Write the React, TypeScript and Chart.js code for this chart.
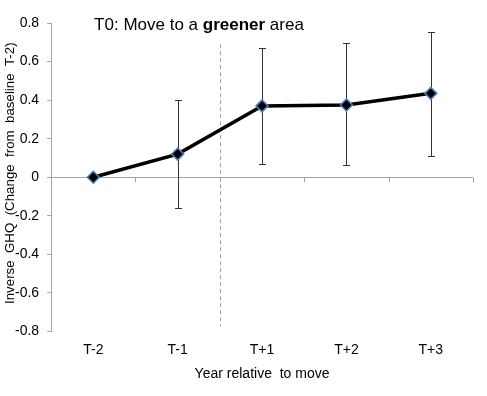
import React, { useEffect, useRef } from "react";
import { Chart, registerables } from "chart.js";

Chart.register(...registerables);

const categories = ["T-2", "T-1", "T+1", "T+2", "T+3"];
const meanValues = [0, 0.12, 0.37, 0.375, 0.435];
const upperCI: (number | null)[] = [null, 0.4, 0.67, 0.695, 0.755];
const lowerCI: (number | null)[] = [null, -0.16, 0.07, 0.065, 0.11];
const yTickMin = -0.8;
const yTickMax = 0.8;
const yTickStep = 0.2;
const moveMarkerIndex = 1.5;
const moveMarkerTop = 0.69;
const moveMarkerBottom = -0.775;

const FONT = "'Liberation Sans', Arial, sans-serif";
const AXIS_GREY = "#a6a6a6";

const decorPlugin = {
  id: "decor",
  beforeDatasetsDraw(chart: any) {
    const { ctx, chartArea, scales } = chart;
    const xs = scales.x;
    const ys = scales.y;
    ctx.save();
    const y0 = Math.round(ys.getPixelForValue(0)) + 0.5;
    ctx.strokeStyle = AXIS_GREY;
    ctx.lineWidth = 1;
    ctx.beginPath();
    ctx.moveTo(chartArea.left, y0);
    ctx.lineTo(chartArea.right, y0);
    for (let i = 0; i <= categories.length; i++) {
      const px = Math.round(xs.getPixelForValue(i - 0.5)) + 0.5;
      ctx.moveTo(px, y0);
      ctx.lineTo(px, y0 + 5);
    }
    ctx.stroke();
    const mx = Math.round(xs.getPixelForValue(moveMarkerIndex)) + 0.5;
    ctx.setLineDash([4, 3]);
    ctx.strokeStyle = "#a0a0a0";
    ctx.beginPath();
    ctx.moveTo(mx, ys.getPixelForValue(moveMarkerTop));
    ctx.lineTo(mx, ys.getPixelForValue(moveMarkerBottom));
    ctx.stroke();
    ctx.setLineDash([]);
    ctx.strokeStyle = "#333333";
    ctx.lineWidth = 1;
    for (let i = 0; i < categories.length; i++) {
      const hi = upperCI[i];
      const lo = lowerCI[i];
      if (hi === null || lo === null) continue;
      const px = Math.round(xs.getPixelForValue(i)) + 0.5;
      const yh = Math.round(ys.getPixelForValue(hi)) + 0.5;
      const yl = Math.round(ys.getPixelForValue(lo)) + 0.5;
      ctx.beginPath();
      ctx.moveTo(px, yh);
      ctx.lineTo(px, yl);
      ctx.moveTo(px - 3.5, yh);
      ctx.lineTo(px + 3.5, yh);
      ctx.moveTo(px - 3.5, yl);
      ctx.lineTo(px + 3.5, yl);
      ctx.stroke();
    }
    ctx.restore();
  },
  afterDraw(chart: any) {
    const { ctx, chartArea } = chart;
    ctx.save();
    ctx.fillStyle = "#000";
    let tx = chartArea.left + 43;
    const ty = chartArea.top + 7;
    ctx.textBaseline = "alphabetic";
    ctx.textAlign = "left";
    const parts: [string, string][] = [
      ["T0: Move to a ", "normal"],
      ["greener", "bold"],
      [" area", "normal"],
    ];
    for (const [t, w] of parts) {
      ctx.font = `${w} 17px ${FONT}`;
      ctx.fillText(t, tx, ty);
      tx += ctx.measureText(t).width;
    }
    ctx.font = `13.3px ${FONT}`;
    ctx.translate(10.5, (chartArea.top + chartArea.bottom) / 2 - 4);
    ctx.rotate(-Math.PI / 2);
    ctx.textAlign = "center";
    ctx.textBaseline = "middle";
    ctx.fillText("Inverse  GHQ  (Change  from  baseline  T-2)", 0, 0);
    ctx.restore();
  },
};

export default function App() {
  const canvasRef = useRef<HTMLCanvasElement | null>(null);
  useEffect(() => {
    const canvas = canvasRef.current;
    if (!canvas) return;
    const chart = new Chart(canvas, {
      type: "line",
      data: {
        labels: categories,
        datasets: [
          {
            data: meanValues,
            borderColor: "#000",
            borderWidth: 3.5,
            backgroundColor: "#000",
            pointStyle: "rectRot",
            pointRadius: 6,
            pointBackgroundColor: "#000",
            pointBorderColor: "#4f81bd",
            pointBorderWidth: 1.5,
            tension: 0,
          },
        ],
      },
      options: {
        animation: false,
        responsive: true,
        maintainAspectRatio: false,
        layout: { padding: { left: 7, right: 14, top: 23, bottom: 13 } },
        plugins: {
          legend: { display: false },
          tooltip: { enabled: false },
          title: { display: false },
        },
        scales: {
          x: {
            type: "category",
            offset: true,
            grid: { display: false },
            border: { display: false },
            ticks: { color: "#000", font: { family: FONT, size: 14 }, padding: 2 },
            title: {
              display: true,
              text: "Year relative  to move",
              color: "#000",
              font: { family: FONT, size: 14 },
              padding: { top: 6, bottom: 0 },
            },
          },
          y: {
            min: yTickMin,
            max: yTickMax,
            grid: { drawOnChartArea: false, drawTicks: true, tickLength: 4, color: AXIS_GREY },
            border: { color: AXIS_GREY, width: 1 },
            ticks: {
              stepSize: yTickStep,
              color: "#000",
              padding: 8,
              font: { family: FONT, size: 14 },
              callback: (v: any) => String(Math.round(Number(v) * 10) / 10),
            },
          },
        },
      },
      plugins: [decorPlugin],
    });
    return () => chart.destroy();
  }, []);
  return (
    <div style={{ position: "absolute", left: 0, top: 0, width: 487, height: 396, background: "#fff" }}>
      <canvas ref={canvasRef} />
    </div>
  );
}
